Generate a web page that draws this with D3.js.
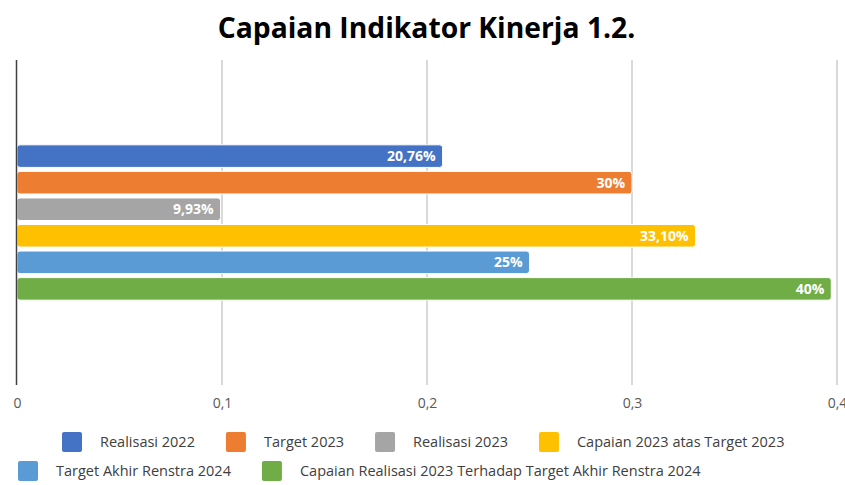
<!DOCTYPE html>
<html>
<head>
<meta charset="utf-8">
<script src="https://cdn.jsdelivr.net/npm/d3@7"></script>
<style>
  body { margin: 0; background: #fff; }
  svg { display: block; }
</style>
</head>
<body>
<svg id="chart" width="845" height="485"></svg>
<script>

// data
var category = ["Indikator 1.2"];
var seriesNames = ["Realisasi 2022", "Target 2023", "Realisasi 2023",
    "Capaian 2023 atas Target 2023", "Target Akhir Renstra 2024",
    "Capaian Realisasi 2023 Terhadap Target Akhir Renstra 2024"];
var seriesValues = [0.2076, 0.30, 0.0993, 0.331, 0.25, 0.3972];
var valueLabels = ["20,76%", "30%", "9,93%", "33,10%", "25%", "40%"];
var seriesColors = ["#4472C4", "#ED7D31", "#A5A5A5", "#FFC000", "#5B9BD5", "#70AD47"];
var xTicks = [0, 0.1, 0.2, 0.3, 0.4];

var svg = d3.select("#chart");
var W = 845, H = 485;
var margin = {top: 60, left: 17, right: 8, bottom: 100};

var x = d3.scaleLinear().domain([0, 0.4]).range([margin.left, 837]);

// one category, split into the six series
var y0 = d3.scaleBand().domain(category)
    .range([margin.top, H - margin.bottom])
    .paddingOuter(0.52).paddingInner(0);
var y1 = d3.scaleBand().domain(seriesNames)
    .range([0, y0.bandwidth()])
    .paddingInner(0.15).paddingOuter(0.075);

// title, shrunk to fit the width it has in the picture
var title = svg.append("text")
    .attr("x", W / 2 + 4).attr("y", 38)
    .attr("text-anchor", "middle")
    .attr("font-family", "Open Sans")
    .attr("font-weight", "bold")
    .attr("font-size", "26px")
    .attr("fill", "#000")
    .text("Capaian Indikator Kinerja 1.2.");
var tw = title.node().getComputedTextLength();
title.attr("font-size", (26 * 418 / tw) + "px");

// gridlines
svg.append("g").selectAll("line")
    .data(xTicks.slice(1))
    .enter().append("line")
    .attr("x1", function(d) { return x(d); })
    .attr("x2", function(d) { return x(d); })
    .attr("y1", margin.top).attr("y2", H - margin.bottom)
    .attr("stroke", "#cccccc")
    .attr("stroke-width", 1.5);

// tick labels
var xAxis = d3.axisBottom(x).tickValues(xTicks)
    .tickSize(0).tickPadding(13)
    .tickFormat(function(d) { return d === 0 ? "0" : d3.format(".1f")(d).replace(".", ","); });
var gx = svg.append("g")
    .attr("transform", "translate(0," + (H - margin.bottom) + ")")
    .call(xAxis);
gx.select(".domain").remove();
gx.selectAll("text")
    .attr("font-family", "Open Sans")
    .attr("font-size", "14px")
    .attr("fill", "#595959");

// bars
var bars = svg.append("g").selectAll("g")
    .data(seriesNames)
    .enter().append("g")
    .attr("transform", function(d) { return "translate(0," + (y0(category[0]) + y1(d)) + ")"; });

bars.append("rect")
    .attr("x", x(0))
    .attr("y", 0)
    .attr("width", function(d, i) { return x(seriesValues[i]) - x(0); })
    .attr("height", y1.bandwidth())
    .attr("rx", 3).attr("ry", 3)
    .attr("fill", function(d, i) { return seriesColors[i]; })
    .attr("stroke", "#fff")
    .attr("stroke-width", 1);

bars.append("text")
    .attr("x", function(d, i) { return x(seriesValues[i]) - 7; })
    .attr("y", y1.bandwidth() / 2)
    .attr("dy", "0.36em")
    .attr("text-anchor", "end")
    .attr("font-family", "Open Sans")
    .attr("font-weight", "bold")
    .attr("font-size", "14px")
    .attr("fill", "#fff")
    .text(function(d, i) { return valueLabels[i]; });

// value axis line at zero
svg.append("line")
    .attr("x1", x(0) - 0.5).attr("x2", x(0) - 0.5)
    .attr("y1", margin.top).attr("y2", H - margin.bottom)
    .attr("stroke", "#404040")
    .attr("stroke-width", 1.5);

// legend, two rows
var legendRows = [[0, 1, 2, 3], [4, 5]];
var rowStart = [62, 18];
var rowY = [442, 471];
legendRows.forEach(function(row, r) {
    var cx = rowStart[r];
    row.forEach(function(i) {
        var g = svg.append("g").attr("transform", "translate(" + cx + "," + rowY[r] + ")");
        g.append("rect")
            .attr("x", 0).attr("y", -10)
            .attr("width", 20).attr("height", 20)
            .attr("rx", 2)
            .attr("fill", seriesColors[i]);
        var t = g.append("text")
            .attr("x", 38).attr("y", 0)
            .attr("dy", "0.35em")
            .attr("font-family", "Open Sans")
            .attr("font-size", "14.5px")
            .attr("fill", "#404040")
            .text(seriesNames[i]);
        cx += 38 + t.node().getComputedTextLength() + 31;
    });
});

</script>
</body>
</html>
